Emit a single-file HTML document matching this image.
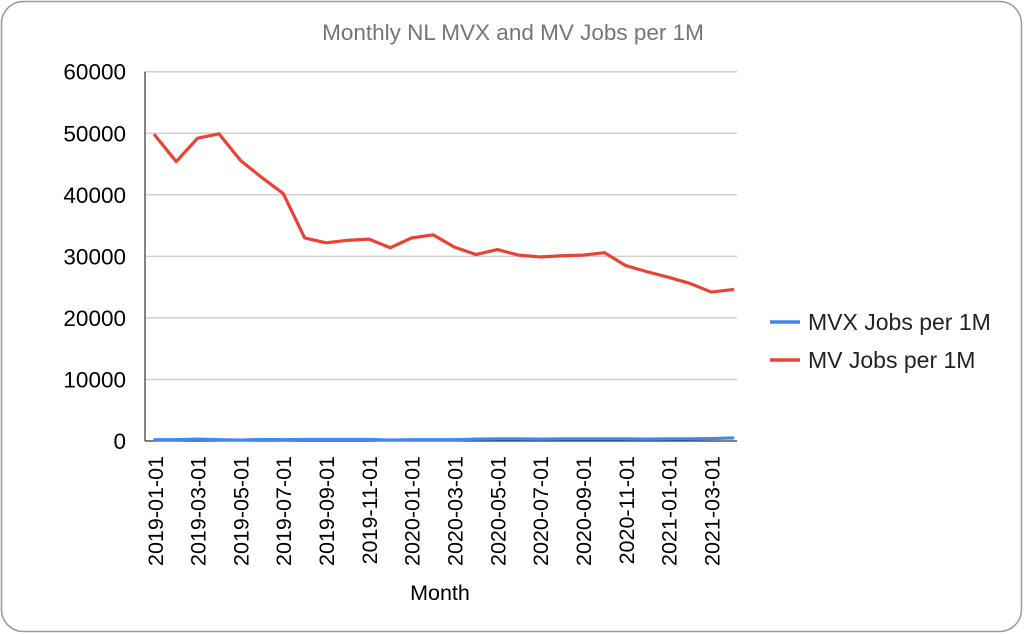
<!DOCTYPE html>
<html><head><meta charset="utf-8"><style>
html,body{margin:0;padding:0;background:#fff;}
svg{display:block;font-family:"Liberation Sans",Arial,sans-serif;}
</style></head><body>
<svg id="chart" width="1024" height="634" viewBox="0 0 1024 634">
<rect x="1.5" y="1.5" width="1020" height="630" rx="22" fill="#fff" stroke="#9a9a9a" stroke-width="1.5"/>
<text x="513" y="40" text-anchor="middle" font-size="22.5" fill="#757575">Monthly NL MVX and MV Jobs per 1M</text>
<g id="grid"></g><g id="yticks"></g><g id="xticks"></g><g id="series"></g>
<text x="440" y="600" text-anchor="middle" font-size="21.5" fill="#000">Month</text>
<g>
<line x1="770" y1="322" x2="800" y2="322" stroke="#4285f4" stroke-width="3.5"/>
<text x="808" y="330" font-size="23" fill="#222">MVX Jobs per 1M</text>
<line x1="770" y1="360" x2="800" y2="360" stroke="#ea4335" stroke-width="3.5"/>
<text x="808" y="368" font-size="23" fill="#222">MV Jobs per 1M</text>
</g>
</svg>
<script>
const months = ["2019-01-01","2019-02-01","2019-03-01","2019-04-01","2019-05-01","2019-06-01","2019-07-01","2019-08-01","2019-09-01","2019-10-01","2019-11-01","2019-12-01","2020-01-01","2020-02-01","2020-03-01","2020-04-01","2020-05-01","2020-06-01","2020-07-01","2020-08-01","2020-09-01","2020-10-01","2020-11-01","2020-12-01","2021-01-01","2021-02-01","2021-03-01","2021-04-01"];
const mvValues = [49700,45400,49200,49900,45600,42800,40200,33000,32200,32600,32800,31400,33000,33500,31500,30300,31100,30200,29900,30100,30200,30600,28500,27500,26600,25600,24200,24600];
const mvxValues = [200,200,300,200,150,250,200,250,250,250,250,150,200,200,200,300,350,350,300,350,350,350,350,300,350,350,400,500];
const yTicks = [0,10000,20000,30000,40000,50000,60000];

const NS="http://www.w3.org/2000/svg";
const X0=154.8, X1=732.8, Y0=441, YMAX=60000, YTOP=71.7, PL=145, PR=737;
function xs(i){return X0+(X1-X0)*i/(months.length-1);}
function ys(v){return Y0-(Y0-YTOP)*v/YMAX;}
function mk(tag,attrs,parent){const e=document.createElementNS(NS,tag);for(const k in attrs)e.setAttribute(k,attrs[k]);parent.appendChild(e);return e;}
const grid=document.getElementById('grid'),yt=document.getElementById('yticks'),xt=document.getElementById('xticks'),ser=document.getElementById('series');
yTicks.forEach(v=>{
  const y=ys(v);
  if(v>0){const l=mk('line',{x1:PL,x2:PR,y1:y,y2:y,stroke:'#d0d0d0','stroke-width':1.5},grid);
  
  }
  const t=mk('text',{x:126,y:y+8,'text-anchor':'end','font-size':22.5,fill:'#000'},yt);
  t.textContent=String(v);
  
  
});
const ax=mk('line',{x1:PL,x2:PL,y1:YTOP,y2:Y0,stroke:'#333','stroke-width':1.2},grid);


const bx=mk('line',{x1:PL,x2:PR,y1:Y0,y2:Y0,stroke:'#333','stroke-width':1.2},grid);


months.forEach((m,i)=>{
  if(i%2!==0)return;
  const x=xs(i)+8,y=456;
  const t=mk('text',{x:x,y:y,'text-anchor':'end','font-size':21.5,fill:'#000',transform:'rotate(-90 '+x+' '+y+')'},xt);
  t.textContent=m;
  
  
});
function line(vals,color,name){
  const p=mk('polyline',{points:vals.map((v,i)=>xs(i)+','+ys(v)).join(' '),fill:'none',stroke:color,'stroke-width':3.2,'stroke-linejoin':'round','stroke-linecap':'round'},ser);
  
  
}
line(mvxValues,'#4285f4','mvx-jobs-line');
line(mvValues,'#ea4335','mv-jobs-line');
</script>
</body></html>
